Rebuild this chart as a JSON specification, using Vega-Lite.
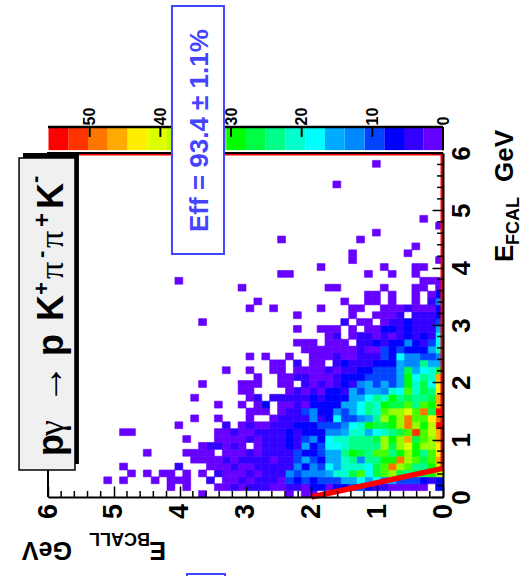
{"$schema":"https://vega.github.io/schema/vega-lite/v6.json","autosize":{"type":"none"},"padding":{"left":48,"top":153,"right":78,"bottom":79},"width":395,"height":344,"background":"white","config":{"font":"Liberation Sans"},"resolve":{"scale":{"x":"independent","color":"independent"},"axis":{"x":"independent"}},"layer":[{"data":{"values":[{"c":0,"n":1},{"c":2.795,"n":4},{"c":5.59,"n":7},{"c":8.385,"n":10},{"c":11.18,"n":13},{"c":13.975,"n":15},{"c":16.77,"n":18},{"c":19.565,"n":21},{"c":22.36,"n":24},{"c":25.155,"n":27},{"c":27.95,"n":29},{"c":30.745,"n":32},{"c":33.54,"n":35},{"c":36.335,"n":38},{"c":39.13,"n":41},{"c":41.925,"n":43},{"c":44.72,"n":46},{"c":47.515,"n":49},{"c":50.31,"n":52},{"c":53.105,"n":55}]},"layer":[{"mark":{"type":"rect","clip":false},"encoding":{"x":{"field":"c","type":"quantitative","bin":{"binned":true,"step":2.795},"scale":{"domain":[55.9,0],"nice":false,"zero":false},"axis":{"orient":"top","offset":26,"title":null,"values":[0,10,20,30,40,50],"format":"d","grid":false,"domain":false,"ticks":false,"tickSize":0,"labelAngle":-90,"labelAlign":"left","labelBaseline":"middle","labelFont":"Liberation Sans","labelFontWeight":"bold","labelFontSize":16,"labelColor":"black","labelPadding":2,"labelFlush":false,"labelOverlap":false,"zindex":0}},"y":{"datum":6.05,"type":"quantitative","scale":{"domain":[0,6],"nice":false,"zero":false}},"y2":{"datum":6.453},"color":{"field":"n","type":"quantitative","legend":null,"scale":{"type":"threshold","domain":[2.8,5.6,8.4,11.2,14,16.8,19.6,22.4,25.2,28,30.8,33.6,36.4,39.2,42,44.8,47.6,50.4,53.2],"range":["#6600ff","#3300ff","#0000ff","#0044ff","#0088ff","#00aaff","#00ffff","#00ffcc","#00ff88","#00ff44","#00ff00","#44ff00","#99ff00","#bbff00","#ddff00","#ffee00","#ffaa00","#ff7700","#ff3300","#ff0000"]}}}},{"data":{"values":[{"v":0},{"v":10},{"v":20},{"v":30},{"v":40},{"v":50}]},"mark":{"type":"rule","color":"black","strokeWidth":2},"encoding":{"x":{"field":"v","type":"quantitative"},"y":{"datum":6.453,"type":"quantitative"},"y2":{"datum":6.28}}},{"data":{"values":[{"v":0,"v2":55.9}]},"mark":{"type":"rule","color":"black","strokeWidth":2.5},"encoding":{"x":{"field":"v","type":"quantitative"},"x2":{"field":"v2"},"y":{"datum":6.453,"type":"quantitative"}}},{"data":{"values":[{"v":0}]},"mark":{"type":"rule","color":"black","strokeWidth":2},"encoding":{"x":{"field":"v","type":"quantitative"},"y":{"datum":6.453,"type":"quantitative"},"y2":{"datum":6.05}}}]},{"layer":[{"data":{"values":[{"b":2.04,"f":0,"n":1},{"b":1.92,"f":0,"n":1},{"b":2.28,"f":0,"n":1},{"b":3.6,"f":0,"n":1},{"b":0,"f":0.12,"n":7},{"b":0.24,"f":0.12,"n":1},{"b":0.36,"f":0.12,"n":1},{"b":0.48,"f":0.12,"n":1},{"b":0.6,"f":0.12,"n":1},{"b":0.72,"f":0.12,"n":1},{"b":0.84,"f":0.12,"n":4},{"b":0.96,"f":0.12,"n":4},{"b":1.08,"f":0.12,"n":7},{"b":1.2,"f":0.12,"n":10},{"b":1.32,"f":0.12,"n":10},{"b":1.44,"f":0.12,"n":7},{"b":1.56,"f":0.12,"n":7},{"b":1.68,"f":0.12,"n":1},{"b":1.8,"f":0.12,"n":7},{"b":1.92,"f":0.12,"n":7},{"b":2.04,"f":0.12,"n":1},{"b":2.16,"f":0.12,"n":4},{"b":2.28,"f":0.12,"n":4},{"b":2.4,"f":0.12,"n":1},{"b":2.52,"f":0.12,"n":1},{"b":2.64,"f":0.12,"n":4},{"b":2.76,"f":0.12,"n":4},{"b":2.88,"f":0.12,"n":4},{"b":3,"f":0.12,"n":1},{"b":3.12,"f":0.12,"n":4},{"b":3.24,"f":0.12,"n":1},{"b":3.36,"f":0.12,"n":1},{"b":3.84,"f":0.12,"n":1},{"b":4.08,"f":0.12,"n":1},{"b":0,"f":0.24,"n":7},{"b":0.12,"f":0.24,"n":4},{"b":0.24,"f":0.24,"n":7},{"b":0.36,"f":0.24,"n":10},{"b":0.48,"f":0.24,"n":10},{"b":0.6,"f":0.24,"n":10},{"b":0.72,"f":0.24,"n":15},{"b":0.84,"f":0.24,"n":13},{"b":0.96,"f":0.24,"n":18},{"b":1.08,"f":0.24,"n":15},{"b":1.2,"f":0.24,"n":18},{"b":1.32,"f":0.24,"n":15},{"b":1.44,"f":0.24,"n":15},{"b":1.56,"f":0.24,"n":10},{"b":1.68,"f":0.24,"n":10},{"b":1.8,"f":0.24,"n":10},{"b":1.92,"f":0.24,"n":7},{"b":2.04,"f":0.24,"n":10},{"b":2.16,"f":0.24,"n":7},{"b":2.28,"f":0.24,"n":10},{"b":2.4,"f":0.24,"n":1},{"b":2.52,"f":0.24,"n":4},{"b":2.64,"f":0.24,"n":4},{"b":2.76,"f":0.24,"n":4},{"b":2.88,"f":0.24,"n":1},{"b":3,"f":0.24,"n":4},{"b":3.12,"f":0.24,"n":1},{"b":3.24,"f":0.24,"n":1},{"b":3.48,"f":0.24,"n":4},{"b":3.84,"f":0.24,"n":1},{"b":3.96,"f":0.24,"n":1},{"b":4.08,"f":0.24,"n":1},{"b":4.32,"f":0.24,"n":1},{"b":4.8,"f":0.24,"n":1},{"b":5.04,"f":0.24,"n":1},{"b":0,"f":0.36,"n":38},{"b":0.12,"f":0.36,"n":29},{"b":0.24,"f":0.36,"n":27},{"b":0.36,"f":0.36,"n":27},{"b":0.48,"f":0.36,"n":24},{"b":0.6,"f":0.36,"n":27},{"b":0.72,"f":0.36,"n":35},{"b":0.84,"f":0.36,"n":32},{"b":0.96,"f":0.36,"n":27},{"b":1.08,"f":0.36,"n":18},{"b":1.2,"f":0.36,"n":32},{"b":1.32,"f":0.36,"n":27},{"b":1.44,"f":0.36,"n":21},{"b":1.56,"f":0.36,"n":21},{"b":1.68,"f":0.36,"n":15},{"b":1.8,"f":0.36,"n":13},{"b":1.92,"f":0.36,"n":13},{"b":2.04,"f":0.36,"n":13},{"b":2.16,"f":0.36,"n":10},{"b":2.28,"f":0.36,"n":13},{"b":2.4,"f":0.36,"n":4},{"b":2.52,"f":0.36,"n":4},{"b":2.64,"f":0.36,"n":4},{"b":2.76,"f":0.36,"n":1},{"b":2.88,"f":0.36,"n":4},{"b":3,"f":0.36,"n":1},{"b":3.12,"f":0.36,"n":1},{"b":3.24,"f":0.36,"n":1},{"b":3.36,"f":0.36,"n":4},{"b":3.6,"f":0.36,"n":1},{"b":3.84,"f":0.36,"n":1},{"b":4.08,"f":0.36,"n":1},{"b":4.2,"f":0.36,"n":1},{"b":4.44,"f":0.36,"n":1},{"b":4.68,"f":0.36,"n":1},{"b":0,"f":0.48,"n":38},{"b":0.12,"f":0.48,"n":29},{"b":0.24,"f":0.48,"n":24},{"b":0.36,"f":0.48,"n":24},{"b":0.48,"f":0.48,"n":32},{"b":0.6,"f":0.48,"n":35},{"b":0.72,"f":0.48,"n":49},{"b":0.84,"f":0.48,"n":32},{"b":0.96,"f":0.48,"n":27},{"b":1.08,"f":0.48,"n":18},{"b":1.2,"f":0.48,"n":21},{"b":1.32,"f":0.48,"n":21},{"b":1.44,"f":0.48,"n":21},{"b":1.56,"f":0.48,"n":15},{"b":1.68,"f":0.48,"n":18},{"b":1.8,"f":0.48,"n":10},{"b":1.92,"f":0.48,"n":13},{"b":2.04,"f":0.48,"n":7},{"b":2.16,"f":0.48,"n":13},{"b":2.28,"f":0.48,"n":4},{"b":2.4,"f":0.48,"n":4},{"b":2.52,"f":0.48,"n":4},{"b":2.64,"f":0.48,"n":4},{"b":2.76,"f":0.48,"n":4},{"b":2.88,"f":0.48,"n":1},{"b":3,"f":0.48,"n":1},{"b":3.12,"f":0.48,"n":4},{"b":3.24,"f":0.48,"n":1},{"b":3.36,"f":0.48,"n":1},{"b":3.48,"f":0.48,"n":1},{"b":3.96,"f":0.48,"n":4},{"b":4.8,"f":0.48,"n":1},{"b":0,"f":0.6,"n":46},{"b":0.12,"f":0.6,"n":32},{"b":0.24,"f":0.6,"n":27},{"b":0.36,"f":0.6,"n":32},{"b":0.48,"f":0.6,"n":35},{"b":0.6,"f":0.6,"n":49},{"b":0.72,"f":0.6,"n":29},{"b":0.84,"f":0.6,"n":29},{"b":0.96,"f":0.6,"n":24},{"b":1.08,"f":0.6,"n":24},{"b":1.2,"f":0.6,"n":13},{"b":1.32,"f":0.6,"n":24},{"b":1.44,"f":0.6,"n":21},{"b":1.56,"f":0.6,"n":15},{"b":1.68,"f":0.6,"n":15},{"b":1.8,"f":0.6,"n":7},{"b":1.92,"f":0.6,"n":10},{"b":2.04,"f":0.6,"n":15},{"b":2.16,"f":0.6,"n":10},{"b":2.28,"f":0.6,"n":4},{"b":2.4,"f":0.6,"n":4},{"b":2.52,"f":0.6,"n":1},{"b":2.64,"f":0.6,"n":4},{"b":2.76,"f":0.6,"n":4},{"b":2.88,"f":0.6,"n":4},{"b":3,"f":0.6,"n":4},{"b":3.12,"f":0.6,"n":1},{"b":3.24,"f":0.6,"n":4},{"b":3.36,"f":0.6,"n":1},{"b":3.48,"f":0.6,"n":1},{"b":3.6,"f":0.6,"n":1},{"b":3.72,"f":0.6,"n":1},{"b":0,"f":0.72,"n":43},{"b":0.12,"f":0.72,"n":32},{"b":0.24,"f":0.72,"n":24},{"b":0.36,"f":0.72,"n":29},{"b":0.48,"f":0.72,"n":35},{"b":0.6,"f":0.72,"n":29},{"b":0.72,"f":0.72,"n":24},{"b":0.84,"f":0.72,"n":32},{"b":0.96,"f":0.72,"n":32},{"b":1.08,"f":0.72,"n":24},{"b":1.2,"f":0.72,"n":27},{"b":1.32,"f":0.72,"n":29},{"b":1.44,"f":0.72,"n":24},{"b":1.56,"f":0.72,"n":15},{"b":1.68,"f":0.72,"n":15},{"b":1.8,"f":0.72,"n":10},{"b":1.92,"f":0.72,"n":7},{"b":2.04,"f":0.72,"n":7},{"b":2.16,"f":0.72,"n":10},{"b":2.28,"f":0.72,"n":4},{"b":2.4,"f":0.72,"n":4},{"b":2.52,"f":0.72,"n":4},{"b":2.64,"f":0.72,"n":4},{"b":2.76,"f":0.72,"n":1},{"b":2.88,"f":0.72,"n":4},{"b":3,"f":0.72,"n":1},{"b":3.12,"f":0.72,"n":1},{"b":3.24,"f":0.72,"n":1},{"b":3.48,"f":0.72,"n":1},{"b":3.6,"f":0.72,"n":1},{"b":3.72,"f":0.72,"n":1},{"b":3.84,"f":0.72,"n":1},{"b":4.44,"f":0.72,"n":1},{"b":0,"f":0.84,"n":43},{"b":0.12,"f":0.84,"n":35},{"b":0.24,"f":0.84,"n":35},{"b":0.36,"f":0.84,"n":29},{"b":0.48,"f":0.84,"n":41},{"b":0.6,"f":0.84,"n":35},{"b":0.72,"f":0.84,"n":27},{"b":0.84,"f":0.84,"n":35},{"b":0.96,"f":0.84,"n":24},{"b":1.08,"f":0.84,"n":24},{"b":1.2,"f":0.84,"n":24},{"b":1.32,"f":0.84,"n":24},{"b":1.44,"f":0.84,"n":21},{"b":1.56,"f":0.84,"n":18},{"b":1.68,"f":0.84,"n":18},{"b":1.8,"f":0.84,"n":10},{"b":1.92,"f":0.84,"n":7},{"b":2.04,"f":0.84,"n":15},{"b":2.16,"f":0.84,"n":4},{"b":2.28,"f":0.84,"n":7},{"b":2.4,"f":0.84,"n":4},{"b":2.52,"f":0.84,"n":4},{"b":2.64,"f":0.84,"n":4},{"b":2.76,"f":0.84,"n":1},{"b":3,"f":0.84,"n":1},{"b":3.12,"f":0.84,"n":4},{"b":3.24,"f":0.84,"n":1},{"b":3.36,"f":0.84,"n":4},{"b":3.48,"f":0.84,"n":4},{"b":3.6,"f":0.84,"n":1},{"b":0,"f":0.96,"n":46},{"b":0.12,"f":0.96,"n":35},{"b":0.24,"f":0.96,"n":32},{"b":0.36,"f":0.96,"n":27},{"b":0.48,"f":0.96,"n":46},{"b":0.6,"f":0.96,"n":35},{"b":0.72,"f":0.96,"n":29},{"b":0.84,"f":0.96,"n":35},{"b":0.96,"f":0.96,"n":27},{"b":1.08,"f":0.96,"n":24},{"b":1.2,"f":0.96,"n":24},{"b":1.32,"f":0.96,"n":24},{"b":1.44,"f":0.96,"n":21},{"b":1.56,"f":0.96,"n":21},{"b":1.68,"f":0.96,"n":18},{"b":1.8,"f":0.96,"n":7},{"b":1.92,"f":0.96,"n":13},{"b":2.04,"f":0.96,"n":10},{"b":2.16,"f":0.96,"n":4},{"b":2.28,"f":0.96,"n":7},{"b":2.4,"f":0.96,"n":4},{"b":2.52,"f":0.96,"n":4},{"b":2.64,"f":0.96,"n":4},{"b":2.76,"f":0.96,"n":1},{"b":2.88,"f":0.96,"n":4},{"b":3,"f":0.96,"n":1},{"b":3.12,"f":0.96,"n":1},{"b":3.24,"f":0.96,"n":1},{"b":3.36,"f":0.96,"n":1},{"b":3.84,"f":0.96,"n":1},{"b":0,"f":1.08,"n":46},{"b":0.12,"f":1.08,"n":38},{"b":0.24,"f":1.08,"n":32},{"b":0.36,"f":1.08,"n":52},{"b":0.48,"f":1.08,"n":32},{"b":0.6,"f":1.08,"n":27},{"b":0.72,"f":1.08,"n":24},{"b":0.84,"f":1.08,"n":21},{"b":0.96,"f":1.08,"n":18},{"b":1.08,"f":1.08,"n":15},{"b":1.2,"f":1.08,"n":21},{"b":1.32,"f":1.08,"n":21},{"b":1.44,"f":1.08,"n":15},{"b":1.56,"f":1.08,"n":13},{"b":1.68,"f":1.08,"n":13},{"b":1.8,"f":1.08,"n":7},{"b":1.92,"f":1.08,"n":7},{"b":2.04,"f":1.08,"n":7},{"b":2.16,"f":1.08,"n":4},{"b":2.28,"f":1.08,"n":7},{"b":2.4,"f":1.08,"n":4},{"b":2.52,"f":1.08,"n":4},{"b":2.64,"f":1.08,"n":4},{"b":2.76,"f":1.08,"n":4},{"b":2.88,"f":1.08,"n":1},{"b":3,"f":1.08,"n":1},{"b":3.12,"f":1.08,"n":4},{"b":3.24,"f":1.08,"n":1},{"b":3.36,"f":1.08,"n":1},{"b":4.68,"f":1.08,"n":1},{"b":4.8,"f":1.08,"n":1},{"b":0,"f":1.2,"n":55},{"b":0.12,"f":1.2,"n":38},{"b":0.24,"f":1.2,"n":29},{"b":0.36,"f":1.2,"n":35},{"b":0.48,"f":1.2,"n":49},{"b":0.6,"f":1.2,"n":35},{"b":0.72,"f":1.2,"n":29},{"b":0.84,"f":1.2,"n":27},{"b":0.96,"f":1.2,"n":27},{"b":1.08,"f":1.2,"n":29},{"b":1.2,"f":1.2,"n":21},{"b":1.32,"f":1.2,"n":18},{"b":1.44,"f":1.2,"n":13},{"b":1.56,"f":1.2,"n":10},{"b":1.68,"f":1.2,"n":10},{"b":1.8,"f":1.2,"n":10},{"b":1.92,"f":1.2,"n":7},{"b":2.04,"f":1.2,"n":7},{"b":2.16,"f":1.2,"n":7},{"b":2.28,"f":1.2,"n":4},{"b":2.4,"f":1.2,"n":4},{"b":2.52,"f":1.2,"n":4},{"b":2.64,"f":1.2,"n":1},{"b":2.76,"f":1.2,"n":1},{"b":2.88,"f":1.2,"n":4},{"b":3,"f":1.2,"n":1},{"b":3.24,"f":1.2,"n":4},{"b":3.96,"f":1.2,"n":1},{"b":0,"f":1.32,"n":49},{"b":0.12,"f":1.32,"n":43},{"b":0.24,"f":1.32,"n":32},{"b":0.36,"f":1.32,"n":32},{"b":0.48,"f":1.32,"n":49},{"b":0.6,"f":1.32,"n":35},{"b":0.72,"f":1.32,"n":29},{"b":0.84,"f":1.32,"n":35},{"b":0.96,"f":1.32,"n":24},{"b":1.08,"f":1.32,"n":15},{"b":1.2,"f":1.32,"n":13},{"b":1.32,"f":1.32,"n":10},{"b":1.44,"f":1.32,"n":10},{"b":1.56,"f":1.32,"n":18},{"b":1.68,"f":1.32,"n":7},{"b":1.8,"f":1.32,"n":4},{"b":1.92,"f":1.32,"n":13},{"b":2.04,"f":1.32,"n":4},{"b":2.16,"f":1.32,"n":4},{"b":2.28,"f":1.32,"n":4},{"b":2.4,"f":1.32,"n":4},{"b":2.52,"f":1.32,"n":1},{"b":2.88,"f":1.32,"n":1},{"b":3.36,"f":1.32,"n":1},{"b":3.72,"f":1.32,"n":1},{"b":0,"f":1.44,"n":55},{"b":0.12,"f":1.44,"n":27},{"b":0.24,"f":1.44,"n":49},{"b":0.36,"f":1.44,"n":32},{"b":0.48,"f":1.44,"n":41},{"b":0.6,"f":1.44,"n":35},{"b":0.72,"f":1.44,"n":35},{"b":0.84,"f":1.44,"n":32},{"b":0.96,"f":1.44,"n":21},{"b":1.08,"f":1.44,"n":24},{"b":1.2,"f":1.44,"n":18},{"b":1.32,"f":1.44,"n":15},{"b":1.44,"f":1.44,"n":10},{"b":1.56,"f":1.44,"n":13},{"b":1.68,"f":1.44,"n":7},{"b":1.8,"f":1.44,"n":7},{"b":1.92,"f":1.44,"n":13},{"b":2.04,"f":1.44,"n":10},{"b":2.16,"f":1.44,"n":4},{"b":2.28,"f":1.44,"n":4},{"b":2.4,"f":1.44,"n":1},{"b":2.64,"f":1.44,"n":1},{"b":2.76,"f":1.44,"n":1},{"b":2.88,"f":1.44,"n":1},{"b":0,"f":1.56,"n":46},{"b":0.12,"f":1.56,"n":29},{"b":0.24,"f":1.56,"n":32},{"b":0.36,"f":1.56,"n":24},{"b":0.48,"f":1.56,"n":32},{"b":0.6,"f":1.56,"n":27},{"b":0.72,"f":1.56,"n":27},{"b":0.84,"f":1.56,"n":29},{"b":0.96,"f":1.56,"n":21},{"b":1.08,"f":1.56,"n":24},{"b":1.2,"f":1.56,"n":18},{"b":1.32,"f":1.56,"n":15},{"b":1.44,"f":1.56,"n":15},{"b":1.56,"f":1.56,"n":7},{"b":1.68,"f":1.56,"n":7},{"b":1.8,"f":1.56,"n":7},{"b":1.92,"f":1.56,"n":7},{"b":2.04,"f":1.56,"n":1},{"b":2.16,"f":1.56,"n":4},{"b":2.28,"f":1.56,"n":1},{"b":2.4,"f":1.56,"n":1},{"b":2.64,"f":1.56,"n":7},{"b":2.76,"f":1.56,"n":1},{"b":3,"f":1.56,"n":1},{"b":3.36,"f":1.56,"n":1},{"b":0,"f":1.68,"n":46},{"b":0.12,"f":1.68,"n":27},{"b":0.24,"f":1.68,"n":24},{"b":0.36,"f":1.68,"n":24},{"b":0.48,"f":1.68,"n":27},{"b":0.6,"f":1.68,"n":24},{"b":0.72,"f":1.68,"n":29},{"b":0.84,"f":1.68,"n":21},{"b":0.96,"f":1.68,"n":24},{"b":1.08,"f":1.68,"n":18},{"b":1.2,"f":1.68,"n":15},{"b":1.32,"f":1.68,"n":15},{"b":1.44,"f":1.68,"n":7},{"b":1.56,"f":1.68,"n":7},{"b":1.68,"f":1.68,"n":7},{"b":1.8,"f":1.68,"n":4},{"b":1.92,"f":1.68,"n":7},{"b":2.04,"f":1.68,"n":4},{"b":2.16,"f":1.68,"n":4},{"b":2.28,"f":1.68,"n":4},{"b":2.4,"f":1.68,"n":4},{"b":2.52,"f":1.68,"n":4},{"b":2.76,"f":1.68,"n":4},{"b":2.88,"f":1.68,"n":1},{"b":3.72,"f":1.68,"n":1},{"b":0,"f":1.8,"n":43},{"b":0.12,"f":1.8,"n":24},{"b":0.24,"f":1.8,"n":27},{"b":0.36,"f":1.8,"n":21},{"b":0.48,"f":1.8,"n":32},{"b":0.6,"f":1.8,"n":18},{"b":0.72,"f":1.8,"n":21},{"b":0.84,"f":1.8,"n":13},{"b":0.96,"f":1.8,"n":15},{"b":1.08,"f":1.8,"n":15},{"b":1.2,"f":1.8,"n":10},{"b":1.32,"f":1.8,"n":15},{"b":1.44,"f":1.8,"n":4},{"b":1.56,"f":1.8,"n":7},{"b":1.68,"f":1.8,"n":7},{"b":1.8,"f":1.8,"n":1},{"b":1.92,"f":1.8,"n":4},{"b":2.04,"f":1.8,"n":1},{"b":2.16,"f":1.8,"n":4},{"b":2.28,"f":1.8,"n":1},{"b":2.88,"f":1.8,"n":1},{"b":3,"f":1.8,"n":1},{"b":0,"f":1.92,"n":43},{"b":0.12,"f":1.92,"n":18},{"b":0.24,"f":1.92,"n":27},{"b":0.36,"f":1.92,"n":21},{"b":0.48,"f":1.92,"n":29},{"b":0.6,"f":1.92,"n":15},{"b":0.72,"f":1.92,"n":10},{"b":0.84,"f":1.92,"n":15},{"b":0.96,"f":1.92,"n":10},{"b":1.08,"f":1.92,"n":15},{"b":1.2,"f":1.92,"n":13},{"b":1.32,"f":1.92,"n":4},{"b":1.44,"f":1.92,"n":7},{"b":1.56,"f":1.92,"n":4},{"b":1.68,"f":1.92,"n":1},{"b":1.8,"f":1.92,"n":4},{"b":1.92,"f":1.92,"n":1},{"b":2.04,"f":1.92,"n":4},{"b":2.28,"f":1.92,"n":1},{"b":2.4,"f":1.92,"n":1},{"b":2.76,"f":1.92,"n":1},{"b":2.88,"f":1.92,"n":1},{"b":3,"f":1.92,"n":1},{"b":3.6,"f":1.92,"n":1},{"b":0,"f":2.04,"n":46},{"b":0.12,"f":2.04,"n":21},{"b":0.24,"f":2.04,"n":24},{"b":0.36,"f":2.04,"n":18},{"b":0.48,"f":2.04,"n":29},{"b":0.6,"f":2.04,"n":15},{"b":0.72,"f":2.04,"n":10},{"b":0.84,"f":2.04,"n":10},{"b":0.96,"f":2.04,"n":10},{"b":1.08,"f":2.04,"n":10},{"b":1.2,"f":2.04,"n":7},{"b":1.32,"f":2.04,"n":7},{"b":1.44,"f":2.04,"n":7},{"b":1.56,"f":2.04,"n":4},{"b":1.68,"f":2.04,"n":1},{"b":1.8,"f":2.04,"n":1},{"b":1.92,"f":2.04,"n":1},{"b":2.04,"f":2.04,"n":4},{"b":2.16,"f":2.04,"n":4},{"b":2.28,"f":2.04,"n":1},{"b":2.4,"f":2.04,"n":1},{"b":2.76,"f":2.04,"n":1},{"b":0,"f":2.16,"n":27},{"b":0.12,"f":2.16,"n":21},{"b":0.24,"f":2.16,"n":18},{"b":0.36,"f":2.16,"n":15},{"b":0.48,"f":2.16,"n":27},{"b":0.6,"f":2.16,"n":15},{"b":0.72,"f":2.16,"n":10},{"b":0.84,"f":2.16,"n":10},{"b":0.96,"f":2.16,"n":10},{"b":1.08,"f":2.16,"n":7},{"b":1.2,"f":2.16,"n":7},{"b":1.32,"f":2.16,"n":4},{"b":1.44,"f":2.16,"n":4},{"b":1.56,"f":2.16,"n":1},{"b":1.68,"f":2.16,"n":4},{"b":1.8,"f":2.16,"n":1},{"b":1.92,"f":2.16,"n":1},{"b":2.04,"f":2.16,"n":1},{"b":2.16,"f":2.16,"n":1},{"b":2.4,"f":2.16,"n":1},{"b":2.52,"f":2.16,"n":1},{"b":2.88,"f":2.16,"n":1},{"b":3.24,"f":2.16,"n":1},{"b":0,"f":2.28,"n":15},{"b":0.12,"f":2.28,"n":15},{"b":0.24,"f":2.28,"n":24},{"b":0.36,"f":2.28,"n":13},{"b":0.48,"f":2.28,"n":13},{"b":0.6,"f":2.28,"n":15},{"b":0.72,"f":2.28,"n":7},{"b":0.84,"f":2.28,"n":7},{"b":0.96,"f":2.28,"n":7},{"b":1.08,"f":2.28,"n":4},{"b":1.2,"f":2.28,"n":4},{"b":1.32,"f":2.28,"n":4},{"b":1.44,"f":2.28,"n":7},{"b":1.56,"f":2.28,"n":4},{"b":1.8,"f":2.28,"n":1},{"b":1.92,"f":2.28,"n":1},{"b":2.16,"f":2.28,"n":4},{"b":2.4,"f":2.28,"n":1},{"b":2.52,"f":2.28,"n":1},{"b":0,"f":2.4,"n":13},{"b":0.12,"f":2.4,"n":10},{"b":0.24,"f":2.4,"n":10},{"b":0.36,"f":2.4,"n":13},{"b":0.48,"f":2.4,"n":13},{"b":0.6,"f":2.4,"n":18},{"b":0.72,"f":2.4,"n":7},{"b":0.84,"f":2.4,"n":10},{"b":0.96,"f":2.4,"n":4},{"b":1.08,"f":2.4,"n":4},{"b":1.2,"f":2.4,"n":4},{"b":1.32,"f":2.4,"n":1},{"b":1.44,"f":2.4,"n":1},{"b":1.56,"f":2.4,"n":4},{"b":1.68,"f":2.4,"n":1},{"b":1.8,"f":2.4,"n":1},{"b":1.92,"f":2.4,"n":1},{"b":2.28,"f":2.4,"n":1},{"b":2.64,"f":2.4,"n":1},{"b":2.88,"f":2.4,"n":1},{"b":0,"f":2.52,"n":21},{"b":0.12,"f":2.52,"n":15},{"b":0.24,"f":2.52,"n":7},{"b":0.36,"f":2.52,"n":7},{"b":0.48,"f":2.52,"n":7},{"b":0.6,"f":2.52,"n":10},{"b":0.72,"f":2.52,"n":7},{"b":0.84,"f":2.52,"n":10},{"b":0.96,"f":2.52,"n":1},{"b":1.08,"f":2.52,"n":1},{"b":1.2,"f":2.52,"n":4},{"b":1.32,"f":2.52,"n":1},{"b":1.44,"f":2.52,"n":1},{"b":1.56,"f":2.52,"n":1},{"b":1.68,"f":2.52,"n":1},{"b":1.8,"f":2.52,"n":1},{"b":1.92,"f":2.52,"n":1},{"b":2.04,"f":2.52,"n":1},{"b":0,"f":2.64,"n":18},{"b":0.12,"f":2.64,"n":10},{"b":0.24,"f":2.64,"n":4},{"b":0.36,"f":2.64,"n":7},{"b":0.48,"f":2.64,"n":13},{"b":0.6,"f":2.64,"n":7},{"b":0.72,"f":2.64,"n":7},{"b":0.84,"f":2.64,"n":4},{"b":0.96,"f":2.64,"n":7},{"b":1.08,"f":2.64,"n":4},{"b":1.2,"f":2.64,"n":4},{"b":1.44,"f":2.64,"n":1},{"b":1.56,"f":2.64,"n":1},{"b":1.68,"f":2.64,"n":1},{"b":1.92,"f":2.64,"n":1},{"b":2.04,"f":2.64,"n":1},{"b":2.16,"f":2.64,"n":1},{"b":0,"f":2.76,"n":18},{"b":0.12,"f":2.76,"n":4},{"b":0.24,"f":2.76,"n":7},{"b":0.36,"f":2.76,"n":4},{"b":0.48,"f":2.76,"n":7},{"b":0.6,"f":2.76,"n":4},{"b":0.72,"f":2.76,"n":1},{"b":0.84,"f":2.76,"n":4},{"b":0.96,"f":2.76,"n":1},{"b":1.08,"f":2.76,"n":4},{"b":1.2,"f":2.76,"n":4},{"b":1.32,"f":2.76,"n":1},{"b":1.56,"f":2.76,"n":4},{"b":1.68,"f":2.76,"n":1},{"b":0,"f":2.88,"n":15},{"b":0.12,"f":2.88,"n":4},{"b":0.24,"f":2.88,"n":4},{"b":0.36,"f":2.88,"n":4},{"b":0.48,"f":2.88,"n":7},{"b":0.6,"f":2.88,"n":4},{"b":0.72,"f":2.88,"n":7},{"b":0.84,"f":2.88,"n":7},{"b":0.96,"f":2.88,"n":1},{"b":1.08,"f":2.88,"n":1},{"b":1.32,"f":2.88,"n":1},{"b":1.56,"f":2.88,"n":1},{"b":1.68,"f":2.88,"n":1},{"b":1.8,"f":2.88,"n":1},{"b":2.16,"f":2.88,"n":1},{"b":0,"f":3,"n":10},{"b":0.12,"f":3,"n":4},{"b":0.24,"f":3,"n":4},{"b":0.36,"f":3,"n":4},{"b":0.48,"f":3,"n":7},{"b":0.6,"f":3,"n":4},{"b":0.72,"f":3,"n":4},{"b":0.84,"f":3,"n":1},{"b":1.08,"f":3,"n":1},{"b":1.2,"f":3,"n":1},{"b":1.44,"f":3,"n":4},{"b":3.6,"f":3,"n":1},{"b":0,"f":3.12,"n":7},{"b":0.12,"f":3.12,"n":4},{"b":0.24,"f":3.12,"n":4},{"b":0.36,"f":3.12,"n":4},{"b":0.6,"f":3.12,"n":4},{"b":0.72,"f":3.12,"n":1},{"b":0.84,"f":3.12,"n":1},{"b":0.96,"f":3.12,"n":1},{"b":1.32,"f":3.12,"n":1},{"b":2.16,"f":3.12,"n":1},{"b":0,"f":3.24,"n":7},{"b":0.12,"f":3.24,"n":1},{"b":0.24,"f":3.24,"n":1},{"b":0.36,"f":3.24,"n":1},{"b":0.48,"f":3.24,"n":4},{"b":0.6,"f":3.24,"n":1},{"b":0.72,"f":3.24,"n":1},{"b":0.84,"f":3.24,"n":1},{"b":1.2,"f":3.24,"n":1},{"b":1.32,"f":3.24,"n":1},{"b":1.8,"f":3.24,"n":1},{"b":2.52,"f":3.24,"n":1},{"b":2.88,"f":3.24,"n":1},{"b":0,"f":3.36,"n":13},{"b":0.12,"f":3.36,"n":4},{"b":0.36,"f":3.36,"n":1},{"b":0.72,"f":3.36,"n":1},{"b":0.96,"f":3.36,"n":1},{"b":1.08,"f":3.36,"n":1},{"b":1.44,"f":3.36,"n":1},{"b":2.76,"f":3.36,"n":1},{"b":0,"f":3.48,"n":7},{"b":0.12,"f":3.48,"n":1},{"b":0.72,"f":3.48,"n":1},{"b":0.96,"f":3.48,"n":1},{"b":1.08,"f":3.48,"n":1},{"b":0.36,"f":3.48,"n":1},{"b":0,"f":3.6,"n":1},{"b":0.24,"f":3.6,"n":1},{"b":0.36,"f":3.6,"n":1},{"b":0.84,"f":3.6,"n":1},{"b":1.56,"f":3.6,"n":1},{"b":1.68,"f":3.6,"n":1},{"b":3,"f":3.6,"n":1},{"b":0,"f":3.72,"n":1},{"b":0.12,"f":3.72,"n":1},{"b":0.24,"f":3.72,"n":1},{"b":3.96,"f":3.72,"n":1},{"b":0.36,"f":3.84,"n":1},{"b":0.72,"f":3.84,"n":1},{"b":1.08,"f":3.84,"n":1},{"b":2.28,"f":3.84,"n":1},{"b":2.4,"f":3.84,"n":1},{"b":0.24,"f":3.96,"n":1},{"b":0.36,"f":3.96,"n":1},{"b":0.84,"f":3.96,"n":1},{"b":1.8,"f":3.96,"n":1},{"b":0,"f":4.08,"n":1},{"b":1.32,"f":4.08,"n":1},{"b":0.48,"f":4.2,"n":1},{"b":1.32,"f":4.2,"n":1},{"b":0.36,"f":4.32,"n":1},{"b":1.2,"f":4.44,"n":1},{"b":2.4,"f":4.44,"n":1},{"b":0.96,"f":4.56,"n":1},{"b":0,"f":4.68,"n":1},{"b":0.24,"f":4.8,"n":1},{"b":1.56,"f":5.4,"n":1},{"b":0.96,"f":5.76,"n":1}]},"mark":{"type":"rect","strokeWidth":0.6},"encoding":{"x":{"field":"b","type":"quantitative","bin":{"binned":true,"step":0.12},"scale":{"domain":[6,0],"nice":false,"zero":false},"axis":{"title":null,"orient":"bottom","values":[0,1,2,3,4,5,6],"format":"d","grid":false,"domain":true,"domainColor":"black","domainWidth":2,"tickColor":"black","tickWidth":1.5,"tickSize":-11,"labelAngle":-90,"labelAlign":"center","labelBaseline":"middle","labelFont":"Liberation Sans","labelFontWeight":"bold","labelFontSize":27,"labelColor":"black","labelPadding":25,"labelFlush":false,"labelOverlap":false,"zindex":1}},"y":{"field":"f","type":"quantitative","bin":{"binned":true,"step":0.12},"scale":{"domain":[0,6],"nice":false,"zero":false},"axis":{"title":null,"orient":"right","values":[0,1,2,3,4,5,6],"format":"d","grid":false,"domain":true,"domainColor":"black","domainWidth":2,"tickColor":"black","tickWidth":1.5,"tickSize":-11,"labelAngle":-90,"labelAlign":"center","labelBaseline":"middle","labelFont":"Liberation Sans","labelFontWeight":"bold","labelFontSize":26,"labelColor":"black","labelPadding":29,"labelFlush":false,"labelOverlap":false,"zindex":1}},"color":{"field":"n","type":"quantitative","legend":null,"scale":{"type":"threshold","domain":[2.8,5.6,8.4,11.2,14,16.8,19.6,22.4,25.2,28,30.8,33.6,36.4,39.2,42,44.8,47.6,50.4,53.2],"range":["#6600ff","#3300ff","#0000ff","#0044ff","#0088ff","#00aaff","#00ffff","#00ffcc","#00ff88","#00ff44","#00ff00","#44ff00","#99ff00","#bbff00","#ddff00","#ffee00","#ffaa00","#ff7700","#ff3300","#ff0000"]}},"stroke":{"field":"n","type":"quantitative","legend":null,"scale":{"type":"threshold","domain":[2.8,5.6,8.4,11.2,14,16.8,19.6,22.4,25.2,28,30.8,33.6,36.4,39.2,42,44.8,47.6,50.4,53.2],"range":["#6600ff","#3300ff","#0000ff","#0044ff","#0088ff","#00aaff","#00ffff","#00ffcc","#00ff88","#00ff44","#00ff00","#44ff00","#99ff00","#bbff00","#ddff00","#ffee00","#ffaa00","#ff7700","#ff3300","#ff0000"]}}}},{"data":{"values":[{"o":1,"b":6,"f":6},{"o":2,"b":0,"f":6},{"o":3,"b":0,"f":0.5}]},"mark":{"type":"line","color":"#ff0000","strokeWidth":5,"clip":true},"encoding":{"x":{"field":"b","type":"quantitative"},"y":{"field":"f","type":"quantitative"},"order":{"field":"o"}}},{"data":{"values":[{"b":0,"f":0.5},{"b":2,"f":0}]},"mark":{"type":"line","color":"#ff0000","strokeWidth":5.5},"encoding":{"x":{"field":"b","type":"quantitative"},"y":{"field":"f","type":"quantitative"}}},{"data":{"values":[{"o":1,"b":6,"f":0},{"o":2,"b":6,"f":6},{"o":3,"b":0,"f":6}]},"mark":{"type":"line","color":"black","strokeWidth":2},"encoding":{"x":{"field":"b","type":"quantitative"},"y":{"field":"f","type":"quantitative"},"order":{"field":"o"}}},{"data":{"values":[{"v":0.2},{"v":0.4},{"v":0.6},{"v":0.8},{"v":1.2},{"v":1.4},{"v":1.6},{"v":1.8},{"v":2.2},{"v":2.4},{"v":2.6},{"v":2.8},{"v":3.2},{"v":3.4},{"v":3.6},{"v":3.8},{"v":4.2},{"v":4.4},{"v":4.6},{"v":4.8},{"v":5.2},{"v":5.4},{"v":5.6},{"v":5.8}]},"layer":[{"mark":{"type":"rule","color":"black","strokeWidth":1.5},"encoding":{"x":{"field":"v","type":"quantitative"},"y":{"datum":0,"type":"quantitative"},"y2":{"datum":0.105}}},{"mark":{"type":"rule","color":"black","strokeWidth":1.5},"encoding":{"y":{"field":"v","type":"quantitative"},"x":{"datum":0,"type":"quantitative"},"x2":{"datum":0.09}}}]},{"data":{"values":[{"b0":6.38,"b1":5.53,"f0":0.576,"f1":6.0,"k":"shadow"}]},"mark":{"type":"rect","color":"black"},"encoding":{"x":{"field":"b0","type":"quantitative"},"x2":{"field":"b1"},"y":{"field":"f0","type":"quantitative"},"y2":{"field":"f1"}}},{"data":{"values":[{"b0":6.44,"b1":5.59,"f0":0.471,"f1":5.913,"k":"title"}]},"mark":{"type":"rect","fill":"#f0f0f0","stroke":"black","strokeWidth":1.5},"encoding":{"x":{"field":"b0","type":"quantitative"},"x2":{"field":"b1"},"y":{"field":"f0","type":"quantitative"},"y2":{"field":"f1"}}},{"data":{"values":[{"b0":4.117,"b1":3.327,"f0":4.239,"f1":8.564,"k":"eff"},{"b0":3.889,"b1":3.311,"f0":-1.343,"f1":-1.6,"k":"other"}]},"mark":{"type":"rect","fill":"white","stroke":"#4444ff","strokeWidth":2},"encoding":{"x":{"field":"b0","type":"quantitative"},"x2":{"field":"b1"},"y":{"field":"f0","type":"quantitative"},"y2":{"field":"f1"}}},{"data":{"values":[{"b":3.57,"f":4.622,"t":"Eff = 93.4 ± 1.1%"}]},"mark":{"type":"text","font":"Liberation Sans","fontWeight":"bold","fontSize":26,"color":"#4444ff","angle":270,"align":"left","baseline":"alphabetic"},"encoding":{"x":{"field":"b","type":"quantitative"},"y":{"field":"f","type":"quantitative"},"text":{"field":"t"}}},{"data":{"values":[{"b":5.772,"f":0.715,"t":"p","s":36},{"b":5.772,"f":2.459,"t":"p","s":36},{"b":5.772,"f":3.07,"t":"K","s":36},{"b":5.772,"f":5.024,"t":"K","s":36},{"b":5.985,"f":3.523,"t":"+","s":22},{"b":6.007,"f":4.169,"t":"-","s":22},{"b":5.97,"f":4.71,"t":"+","s":24},{"b":6.09,"f":5.477,"t":"-","s":22},{"b":-1.063,"f":5.495,"t":"GeV","s":26},{"b":-1.063,"f":4.099,"t":"E","s":26},{"b":-1.155,"f":4.396,"t":"FCAL","s":18}]},"mark":{"type":"text","font":"Liberation Sans","fontWeight":"bold","color":"black","angle":270,"align":"left","baseline":"alphabetic"},"encoding":{"x":{"field":"b","type":"quantitative"},"y":{"field":"f","type":"quantitative"},"text":{"field":"t"},"size":{"field":"s","type":"quantitative","scale":null}}},{"data":{"values":[{"b":5.772,"f":1.064,"t":"γ","s":36},{"b":5.772,"f":1.622,"t":"→","s":40},{"b":5.772,"f":3.803,"t":"π","s":34},{"b":5.772,"f":4.343,"t":"π","s":34}]},"mark":{"type":"text","font":"Liberation Serif","color":"black","angle":270,"align":"left","baseline":"alphabetic"},"encoding":{"x":{"field":"b","type":"quantitative"},"y":{"field":"f","type":"quantitative"},"text":{"field":"t"},"size":{"field":"s","type":"quantitative","scale":null}}},{"data":{"values":[{"b":5.636,"f":-0.785,"t":"GeV","s":25},{"b":4.208,"f":-0.785,"t":"E","s":25},{"b":4.451,"f":-0.628,"t":"BCALL","s":18}]},"mark":{"type":"text","font":"Liberation Sans","fontWeight":"bold","color":"black","angle":180,"align":"left","baseline":"alphabetic"},"encoding":{"x":{"field":"b","type":"quantitative"},"y":{"field":"f","type":"quantitative"},"text":{"field":"t"},"size":{"field":"s","type":"quantitative","scale":null}}}]}]}
